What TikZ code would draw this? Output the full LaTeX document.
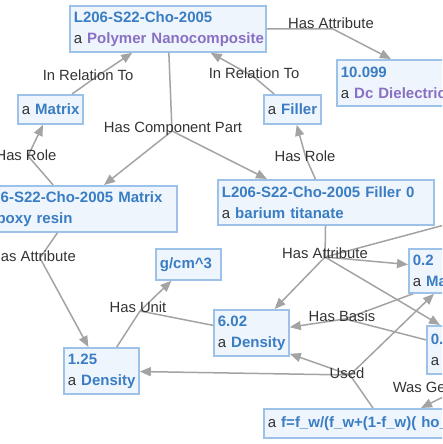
\documentclass[tikz,border=0pt]{standalone}
\usepackage{fontspec}
\setmainfont{Liberation Sans}
\usetikzlibrary{arrows.meta}
\definecolor{boxfill}{HTML}{EEF5FD}
\definecolor{boxdraw}{HTML}{9CC2EA}
\definecolor{nameblue}{HTML}{3A7DC2}
\definecolor{typepurple}{HTML}{8A70C2}
\definecolor{typeblue}{HTML}{3A7DC2}
\definecolor{edgegray}{HTML}{A3A3A3}
\definecolor{txtdark}{HTML}{333333}
\newcommand{\kgname}[1]{\mbox{\textbf{\color{nameblue}#1}}}
\newcommand{\kgtype}[1]{\mbox{{\color{txtdark}a} \textbf{\color{typeblue}#1}}}
\newcommand{\kgtypep}[1]{\mbox{{\color{txtdark}a} \textbf{\color{typepurple}#1}}}
\tikzset{
  kgbox/.style={draw=boxdraw, fill=boxfill, line width=1.8pt, rectangle,
    anchor=north west, inner xsep=4pt, inner ysep=0pt, align=left,
    font=\fontsize{15}{21}\selectfont},
  kglabel/.style={font=\fontsize{14.8}{16}\selectfont, text=txtdark, inner sep=0pt},
  kgedge/.style={draw=edgegray, line width=1.5pt},
  kgarrow/.style={kgedge, -{Triangle[length=11pt,width=9pt]}},
}
\begin{document}
\begin{tikzpicture}[x=1pt,y=-1pt]
\useasboundingbox (0,0) rectangle (442,444);
\clip (0,0) rectangle (442,444);

% nodes
\node[kgbox, text width=188pt, minimum height=46pt] (top) at (69,5)
  {\kgname{L206-S22-Cho-2005}\\\kgtypep{Polymer Nanocomposite}};
\node[kgbox, text width=192pt, minimum height=46pt] (dc) at (336,59)
  {\kgname{10.099}\\\kgtypep{Dc Dielectric Constant}};
\node[kgbox, text width=57pt, minimum height=29pt] (amatrix) at (17,94)
  {\kgtype{Matrix}};
\node[kgbox, text width=49pt, minimum height=29pt] (afiller) at (263,94)
  {\kgtype{Filler}};
\node[kgbox, text width=198pt, minimum height=46pt] (matrixnode) at (-30,185)
  {\kgname{L206-S22-Cho-2005 Matrix}\\\kgtype{epoxy resin}};
\node[kgbox, text width=208pt, minimum height=45pt] (fillernode) at (217,179)
  {\kgname{L206-S22-Cho-2005 Filler 0}\\\kgtype{barium titanate}};
\node[kgbox, text width=57pt, minimum height=31pt] (gcm) at (155,248)
  {\kgname{g/cm\textasciicircum 3}};
\node[kgbox, text width=67pt, minimum height=46pt] (d602) at (213,309)
  {\kgname{6.02}\\\kgtype{Density}};
\node[kgbox, text width=67pt, minimum height=46pt] (d125) at (63,347)
  {\kgname{1.25}\\\kgtype{Density}};
\node[kgbox, text width=132pt, minimum height=44pt] (m02) at (408,248)
  {\kgname{0.2}\\\kgtype{Mass Fraction}};
\node[kgbox, text width=142pt, minimum height=48pt] (v0) at (426,325)
  {\kgname{0.04934}\\\kgtype{Volume Fraction}};
\node[kgbox, text width=292pt, minimum height=29pt] (fbox) at (263,408)
  {\kgtype{f=f\_w/(f\_w+(1-f\_w)( ho\_f/ ho\_m))}};

% junctions
\coordinate (j1) at (333,29);
\coordinate (j2) at (96,77);
\coordinate (j3) at (254,77);
\coordinate (j4) at (28,156);
\coordinate (j5) at (306,158);
\coordinate (j6) at (172,131);
\coordinate (j7) at (40,258);
\coordinate (j8) at (140,311);
\coordinate (j10) at (325,257);
\coordinate (j12) at (345,319);
\coordinate (j13) at (350,375);
\coordinate (j14) at (455,391);
\coordinate (offr) at (560,194);

% edges
\draw[kgedge] (top) -- (j1);
\draw[kgarrow] (j1) -- (dc);
\draw[kgedge] (amatrix) -- (j2);
\draw[kgarrow] (j2) -- (top);
\draw[kgedge] (afiller) -- (j3);
\draw[kgarrow] (j3) -- (top);
\draw[kgedge] (matrixnode) -- (j4);
\draw[kgarrow] (j4) -- (amatrix);
\draw[kgedge] (fillernode) -- (j5);
\draw[kgarrow] (j5) -- (afiller);
\draw[kgedge] (top) -- (j6);
\draw[kgarrow] (j6) -- (matrixnode);
\draw[kgarrow] (j6) -- ([xshift=50pt]fillernode.north west);
\draw[kgedge] (matrixnode) -- (j7);
\draw[kgarrow] (j7) -- (d125);
\draw[kgedge] (d125) -- (j8);
\draw[kgedge] (d602) -- (j8);
\draw[kgarrow] (j8) -- (gcm);
\draw[kgedge] (fillernode) -- (j10);
\draw[kgedge] (offr) -- (j10);
\draw[kgarrow] (j10) -- (m02);
\draw[kgarrow] (j10) -- (d602);
\draw[kgarrow] (j10) -- ([xshift=14pt]v0.north west);
\draw[kgedge] ([yshift=10pt]v0.west) -- (j12);
\draw[kgedge] ([xshift=5pt]m02.south west) -- (j12);
\draw[kgarrow] (j12) -- (d602);
\draw[kgedge] ([xshift=110pt]fbox.north west) -- (j13);
\draw[kgarrow] (j13) -- ([yshift=3pt]d602.south east);
\draw[kgarrow] (j13) -- (d125);
\draw[kgarrow] (j13) -- ([xshift=26pt]m02.south west);
\draw[kgedge] (v0) -- (j14);
\draw[kgarrow] (j14) -- ([xshift=158pt]fbox.north west);

% labels
\node[kglabel] (l1) at (331,23) {Has Attribute};
\node[kglabel] (l2) at (88,75) {In Relation To};
\node[kglabel] (l3) at (254,73) {In Relation To};
\node[kglabel] (l4) at (26,155) {Has Role};
\node[kglabel] (l5) at (305,156) {Has Role};
\node[kglabel] (l6) at (173,129) {Has Component Part};
\node[kglabel] (l7) at (33,256) {Has Attribute};
\node[kglabel] (l8) at (138,307) {Has Unit};
\node[kglabel] (l10) at (325,253) {Has Attribute};
\node[kglabel] (l12) at (342,316) {Has Basis};
\node[kglabel] (l13) at (347,373) {Used};
\node[kglabel] (l14) at (455,389) {Was Generated By};
\end{tikzpicture}
\end{document}
